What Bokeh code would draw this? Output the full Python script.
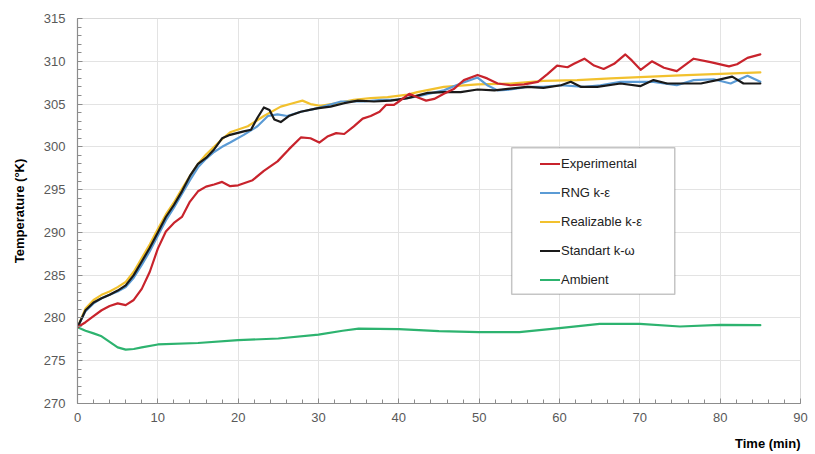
from bokeh.plotting import figure
from bokeh.models import (Range1d, SingleIntervalTicker, Legend, LegendItem,
                          BoxAnnotation, Title)
from bokeh.embed import file_html
from bokeh.resources import INLINE

# ---------------- data ----------------
exp_x = [0, 1, 2, 3, 4, 5, 6, 7, 8, 9, 10, 11, 12, 13, 14, 15, 16, 17, 18, 19, 20,
         21.8, 23.2, 24.9, 26.3, 27.8, 29.0, 30.1, 31.1, 32.2, 33.2, 34.4, 35.5, 36.5,
         37.6, 38.4, 39.4, 40.0, 41.3, 42.3, 43.4, 44.4, 45.6, 46.9, 48.1, 49.8, 51.0,
         52.3, 53.9, 55.6, 57.3, 58.5, 59.7, 61.0, 61.8, 63.1, 64.3, 65.5, 66.8, 68.2,
         69.0, 70.1, 71.5, 73.0, 74.6, 76.7, 78.8, 81.1, 82.1, 83.4, 85.0]
exp_y = [278.9, 279.5, 280.2, 280.9, 281.4, 281.7, 281.5, 282.1, 283.4, 285.4, 288.1,
         290.1, 291.1, 291.8, 293.6, 294.8, 295.35, 295.6, 295.9, 295.4, 295.5,
         296.1, 297.2, 298.3, 299.7, 301.1, 301.0, 300.5, 301.2, 301.6, 301.5, 302.4,
         303.3, 303.6, 304.1, 304.9, 304.9, 305.3, 306.2, 305.8, 305.4, 305.6, 306.2,
         306.8, 307.8, 308.4, 308.0, 307.4, 307.2, 307.3, 307.6, 308.5, 309.5, 309.3,
         309.7, 310.3, 309.5, 309.1, 309.7, 310.8, 310.1, 309.0, 310.0, 309.25, 308.85,
         310.3, 309.9, 309.4, 309.65, 310.4, 310.8]

rng_x = [0, 1, 2, 3, 4, 5, 6, 7, 8, 9, 10, 11, 12, 13, 14, 15, 16, 17, 18, 19,
         20.7, 22.4, 23.7, 24.9, 26.1, 27.8, 29.8, 32.8, 35.7, 37.8, 39.9, 42.3, 45.6,
         47.7, 49.8, 51.0, 52.3, 53.9, 56.0, 58.0, 60.2, 63.1, 65.1, 67.6, 69.7, 71.7,
         74.6, 76.7, 79.2, 81.3, 83.4, 85.0]
rng_y = [278.9, 280.8, 281.7, 282.3, 282.7, 283.1, 283.6, 284.7, 286.2, 287.8, 289.6,
         291.4, 292.9, 294.5, 296.1, 297.6, 298.6, 299.4, 300.0, 300.5,
         301.4, 302.4, 303.6, 303.8, 303.6, 304.1, 304.5, 305.3, 305.3, 305.5, 305.5,
         305.9, 306.6, 307.4, 308.1, 307.2, 306.6, 306.7, 307.0, 307.0, 307.2, 307.0,
         307.2, 307.6, 307.6, 307.6, 307.2, 307.8, 307.9, 307.4, 308.3, 307.6]

real_x = [0, 1, 2, 3, 4, 5, 6, 7, 8, 9, 10, 11, 12, 13, 14, 15, 16, 17, 18, 19,
          21.2, 23.2, 25.3, 26.8, 28.0, 29.0, 30.2, 32.4, 34.4, 36.5, 38.6, 41.1,
          42.3, 45.6, 49.8, 53.9, 58.0, 62.2, 66.4, 75.0, 85.0]
real_y = [278.9, 281.1, 282.1, 282.7, 283.1, 283.6, 284.2, 285.4, 287.0, 288.6, 290.4,
          292.1, 293.5, 295.1, 296.6, 298.0, 299.1, 300.0, 300.9, 301.7,
          302.4, 303.6, 304.7, 305.1, 305.4, 305.0, 304.8, 305.1, 305.5, 305.7, 305.8,
          306.1, 306.4, 307.0, 307.3, 307.4, 307.7, 307.8, 308.0, 308.35, 308.7]

std_x = [0, 1, 2, 3, 4, 5, 6, 7, 8, 9, 10, 11, 12, 13, 14, 15, 16, 17, 18, 19,
         20.7, 21.6, 22.4, 23.2, 23.9, 24.5, 25.3, 26.3, 27.8, 29.8, 31.5, 33.2, 34.9,
         36.9, 39.0, 41.1, 43.6, 45.6, 47.7, 49.8, 51.9, 53.9, 56.0, 58.0, 60.2, 61.4,
         62.7, 64.7, 67.6, 70.1, 71.7, 73.4, 75.5, 77.6, 79.6, 81.5, 82.9, 85.0]
std_y = [278.9, 280.9, 281.8, 282.3, 282.7, 283.2, 283.8, 285.0, 286.6, 288.2, 290.0,
         291.8, 293.2, 294.8, 296.6, 298.0, 298.7, 299.7, 301.0, 301.4,
         301.8, 302.0, 303.4, 304.6, 304.3, 303.2, 302.9, 303.6, 304.1, 304.5, 304.7,
         305.1, 305.4, 305.3, 305.4, 305.7, 306.3, 306.4, 306.4, 306.7, 306.6, 306.8,
         307.0, 306.9, 307.2, 307.6, 307.0, 307.0, 307.4, 307.1, 307.8, 307.4, 307.4,
         307.4, 307.8, 308.2, 307.4, 307.4]

amb_x = [0, 1, 2, 3, 4, 5, 6, 7, 8, 10, 15, 20, 25, 30, 33, 35, 40, 45, 50, 55, 60,
         65, 70, 75, 80, 85]
amb_y = [278.9, 278.5, 278.2, 277.85, 277.2, 276.56, 276.3, 276.37, 276.56, 276.9,
         277.07, 277.4, 277.6, 278.05, 278.5, 278.75, 278.7, 278.45, 278.35, 278.35,
         278.8, 279.3, 279.3, 279.0, 279.2, 279.15]

labels = ["Experimental", "RNG k-\u03b5", "Realizable k-\u03b5", "Standart k-\u03c9", "Ambient"]
colors = ["#C8232C", "#5B9BD5", "#F2C12E", "#1A1A1A", "#2DB36F"]

# ---------------- figure ----------------
FONT = "Liberation Sans"
p = figure(width=815, height=454, output_backend="svg", toolbar_location=None,
           x_range=Range1d(0, 90), y_range=Range1d(270, 315),
           min_border_left=77, min_border_right=15, min_border_top=18,
           min_border_bottom=30)
p.background_fill_color = "white"
p.border_fill_color = "white"
p.outline_line_color = "#D9D9D9"

p.xaxis.ticker = SingleIntervalTicker(interval=10, num_minor_ticks=5)
p.yaxis.ticker = SingleIntervalTicker(interval=5, num_minor_ticks=5)
for ax in (p.xaxis[0], p.yaxis[0]):
    ax.axis_line_color = "#8C8C8C"
    ax.axis_line_width = 1.2
    ax.major_tick_in = 5
    ax.major_tick_out = 0
    ax.minor_tick_in = 4
    ax.minor_tick_out = 0
    ax.major_tick_line_color = "#8C8C8C"
    ax.minor_tick_line_color = "#8C8C8C"
    ax.major_label_text_font = FONT
    ax.major_label_text_font_size = "13px"
    ax.major_label_text_color = "#595959"
p.xaxis.major_label_standoff = 9
# blank spacer label to push the bottom-right title a little lower
p.xaxis.axis_label = " "
p.xaxis.axis_label_text_font_size = "2px"
p.xaxis.axis_label_standoff = 1
p.yaxis.major_label_standoff = 12
p.yaxis.axis_label = "Temperature (\u00b0K)"
p.yaxis.axis_label_text_font = FONT
p.yaxis.axis_label_text_font_style = "bold"
p.yaxis.axis_label_text_font_size = "13px"
p.yaxis.axis_label_text_color = "#000000"
p.yaxis.axis_label_standoff = 14

p.xgrid.grid_line_color = "#E3E3E3"
p.ygrid.grid_line_color = "#E3E3E3"

p.add_layout(Title(text="Time (min)", align="right", text_font=FONT,
                   text_font_style="bold", text_font_size="13px",
                   text_color="#000000", standoff=7), "below")

series = [(exp_x, exp_y), (rng_x, rng_y), (real_x, real_y), (std_x, std_y), (amb_x, amb_y)]
draw_order = [4, 2, 1, 3, 0]
renderers = {}
for i in draw_order:
    xs, ys = series[i]
    renderers[i] = p.line(xs, ys, line_color=colors[i], line_width=2.2,
                          line_join="round", line_cap="round")

# legend frame
box = BoxAnnotation(left=54.05, right=74.35, bottom=282.77, top=299.88,
                    fill_color="white", fill_alpha=1.0,
                    line_color="#404040", line_width=1.5)
p.add_layout(box)

legend = Legend(items=[LegendItem(label=labels[i], renderers=[renderers[i]]) for i in range(5)],
                location=(455, 108), padding=8, spacing=14, glyph_width=20,
                glyph_height=15, label_height=15, label_standoff=1, margin=0,
                label_text_font=FONT, label_text_font_size="13px",
                label_text_color="#222222",
                border_line_alpha=0, background_fill_alpha=0)
p.add_layout(legend)

open("out.html", "w").write(file_html(p, INLINE))
